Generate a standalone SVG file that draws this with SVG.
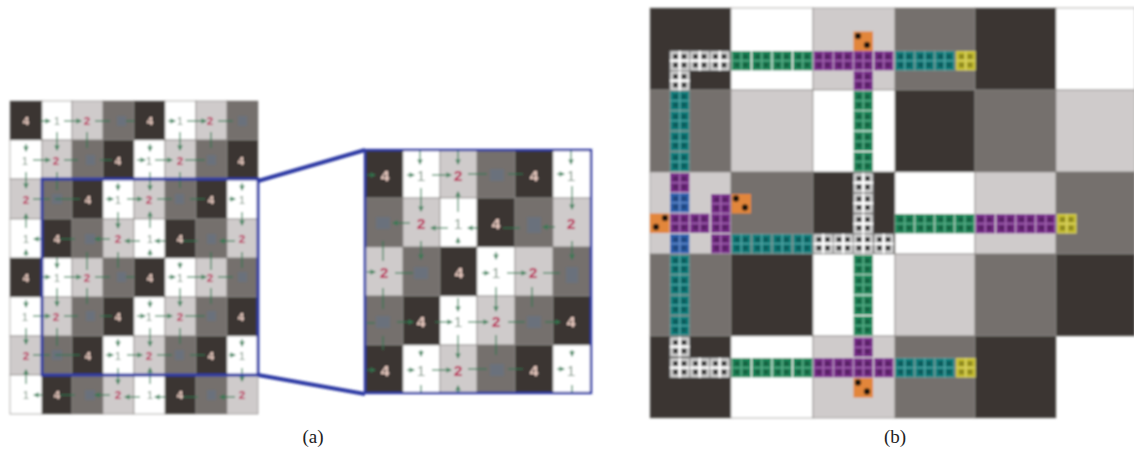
<svg xmlns="http://www.w3.org/2000/svg" xmlns:xlink="http://www.w3.org/1999/xlink" width="1134" height="457" viewBox="0 0 1134 457">
<style>
.d{fill:#3a3633}.w{fill:#fff}.c{fill:#cfcbcb}.g{fill:#74706d}
.cell rect{stroke:#8b8885;stroke-width:.7}
.s{fill:#5f7390;opacity:.4}
text{font-family:"Liberation Sans",Arial,sans-serif;text-anchor:middle}
.a text{font-size:11.5px;font-weight:bold}.z text{font-size:15.5px;font-weight:bold}
.l4{fill:#efcfc5}.l1{fill:#7d9583;font-weight:normal!important}.l2{fill:#b92455}
.cap{font-family:"Liberation Serif","Times New Roman",serif;font-size:19px;fill:#222}
.ar path{fill:none;stroke:#2f7a50;stroke-width:1.3;opacity:.85}
.ar .h{marker-end:url(#ah)}
.t-g{color:#1f8a5c}.t-p{color:#7a2f8c}.t-t{color:#12807f}.t-w{color:#dcdcdc}.t-b{color:#2f62b0}.t-y{color:#c8c030}.t-o{color:#e08a3c}
</style>
<defs>
<filter id="soft" filterUnits="userSpaceOnUse" x="0" y="0" width="1134" height="457"><feGaussianBlur stdDeviation="0.85"/></filter>
<marker id="ah" viewBox="0 0 6 6" refX="5" refY="3" markerWidth="5.5" markerHeight="5.5" markerUnits="userSpaceOnUse" orient="auto"><path d="M0 0L6 3L0 6Z" fill="#2f7a50" stroke="none"/></marker>
<g id="t"><rect width="19.5" height="19.5" fill="currentColor"/><path d="M9.75 0V19.5M0 9.75H19.5" stroke="#fff" stroke-opacity=".3" stroke-width="1.2" fill="none"/><path d="M3 3h5v5h-5zM11.5 3h5v5h-5zM3 11.5h5v5h-5zM11.5 11.5h5v5h-5z" fill="#000" fill-opacity=".28"/><rect width="19.5" height="19.5" fill="none" stroke="#fff" stroke-opacity=".25" stroke-width=".8"/></g>
<g id="tw"><rect width="19.5" height="19.5" fill="#d2d2d2" stroke="#8a8a8a" stroke-width="1"/><path d="M9.75 0V19.5M0 9.75H19.5" stroke="#fff" stroke-width="2.2" fill="none"/><path d="M3 3h5v5h-5zM11.5 3h5v5h-5zM3 11.5h5v5h-5zM11.5 11.5h5v5h-5z" fill="#3a3a3a"/></g>
<g id="to"><rect width="19.5" height="19.5" fill="#e2863a"/><circle cx="4.5" cy="4.5" r="3.2" fill="#1d1208"/><circle cx="13.5" cy="13.5" r="3.2" fill="#1d1208"/></g>
<g id="arrows-top" class="ar">
<path class="h" d="M41 121H50"/><path class="h" d="M64 121H81"/><path d="M95 121H110"/><path d="M126 121H134"/><path class="h" d="M168 121H175"/><path class="h" d="M187 121H206"/><path d="M218 121H233"/>
<path class="h" d="M33 160H50"/><path d="M64 160H78"/><path d="M100 160H112"/><path class="h" d="M137 160H145"/><path class="h" d="M155 160H172"/><path d="M185 160H205"/>
<path d="M33 199H50"/><path d="M55 199H80"/><path class="h" d="M106 199H113"/><path class="h" d="M127 199H142"/><path d="M157 199H172"/><path d="M190 199H205"/><path class="h" d="M229 199H235"/>
<path class="h" d="M42 239H34"/><path d="M60 239H75"/><path class="h" d="M110 239H95"/><path class="h" d="M140 241H125"/><path class="h" d="M165 241H155"/><path d="M180 241H198"/><path class="h" d="M235 241H220"/>
<path class="h" d="M26 144V151"/><path class="h" d="M57 132V150"/><path d="M87 132V148"/><path class="h" d="M150 144V151"/><path class="h" d="M180 132V150"/><path d="M211 132V148"/>
<path class="h" d="M26 172V188"/><path d="M57 172V190"/><path class="h" d="M118 183V190"/><path class="h" d="M150 172V190"/><path d="M180 172V188"/><path class="h" d="M242 183V190"/>
<path class="h" d="M26 228V214"/><path class="h" d="M118 212V228"/><path class="h" d="M150 228V212"/><path class="h" d="M242 212V225"/>
</g>
<g id="arrows-row1z" class="ar">
<path class="h" d="M367 175H375"/><path class="h" d="M407 175H414"/><path class="h" d="M432 175H451"/><path d="M468 174H487"/><path d="M508 174H523"/><path class="h" d="M557 174H564"/>
</g>
</defs>
<g filter="url(#soft)">
<g id="grid-a" class="cell">
<rect class="d" x="10" y="101" width="32" height="39"/><rect class="w" x="42" y="101" width="30" height="39"/><rect class="c" x="72" y="101" width="31" height="39"/><rect class="g" x="103" y="101" width="31" height="39"/><rect class="d" x="134" y="101" width="31" height="39"/><rect class="w" x="165" y="101" width="31" height="39"/><rect class="c" x="196" y="101" width="31" height="39"/><rect class="g" x="227" y="101" width="31" height="39"/>
<rect class="w" x="10" y="140" width="32" height="39"/><rect class="c" x="42" y="140" width="30" height="39"/><rect class="g" x="72" y="140" width="31" height="39"/><rect class="d" x="103" y="140" width="31" height="39"/><rect class="w" x="134" y="140" width="31" height="39"/><rect class="c" x="165" y="140" width="31" height="39"/><rect class="g" x="196" y="140" width="31" height="39"/><rect class="d" x="227" y="140" width="31" height="39"/>
<rect class="c" x="10" y="179" width="32" height="40"/><rect class="g" x="42" y="179" width="30" height="40"/><rect class="d" x="72" y="179" width="31" height="40"/><rect class="w" x="103" y="179" width="31" height="40"/><rect class="c" x="134" y="179" width="31" height="40"/><rect class="g" x="165" y="179" width="31" height="40"/><rect class="d" x="196" y="179" width="31" height="40"/><rect class="w" x="227" y="179" width="31" height="40"/>
<rect class="w" x="10" y="219" width="32" height="39"/><rect class="d" x="42" y="219" width="30" height="39"/><rect class="g" x="72" y="219" width="31" height="39"/><rect class="c" x="103" y="219" width="31" height="39"/><rect class="w" x="134" y="219" width="31" height="39"/><rect class="d" x="165" y="219" width="31" height="39"/><rect class="g" x="196" y="219" width="31" height="39"/><rect class="c" x="227" y="219" width="31" height="39"/>
<rect class="d" x="10" y="258" width="32" height="39"/><rect class="w" x="42" y="258" width="30" height="39"/><rect class="c" x="72" y="258" width="31" height="39"/><rect class="g" x="103" y="258" width="31" height="39"/><rect class="d" x="134" y="258" width="31" height="39"/><rect class="w" x="165" y="258" width="31" height="39"/><rect class="c" x="196" y="258" width="31" height="39"/><rect class="g" x="227" y="258" width="31" height="39"/>
<rect class="w" x="10" y="297" width="32" height="39"/><rect class="c" x="42" y="297" width="30" height="39"/><rect class="g" x="72" y="297" width="31" height="39"/><rect class="d" x="103" y="297" width="31" height="39"/><rect class="w" x="134" y="297" width="31" height="39"/><rect class="c" x="165" y="297" width="31" height="39"/><rect class="g" x="196" y="297" width="31" height="39"/><rect class="d" x="227" y="297" width="31" height="39"/>
<rect class="c" x="10" y="336" width="32" height="39"/><rect class="g" x="42" y="336" width="30" height="39"/><rect class="d" x="72" y="336" width="31" height="39"/><rect class="w" x="103" y="336" width="31" height="39"/><rect class="c" x="134" y="336" width="31" height="39"/><rect class="g" x="165" y="336" width="31" height="39"/><rect class="d" x="196" y="336" width="31" height="39"/><rect class="w" x="227" y="336" width="31" height="39"/>
<rect class="w" x="10" y="375" width="32" height="39"/><rect class="d" x="42" y="375" width="30" height="39"/><rect class="g" x="72" y="375" width="31" height="39"/><rect class="c" x="103" y="375" width="31" height="39"/><rect class="w" x="134" y="375" width="31" height="39"/><rect class="d" x="165" y="375" width="31" height="39"/><rect class="g" x="196" y="375" width="31" height="39"/><rect class="c" x="227" y="375" width="31" height="39"/>
</g>
<g id="smudges-a" class="s">
<rect x="117" y="116" width="9" height="10"/><rect x="238" y="116" width="9" height="10"/><rect x="86" y="155" width="9" height="10"/><rect x="207" y="155" width="9" height="10"/><rect x="52" y="194" width="10" height="10"/><rect x="175" y="194" width="9" height="10"/><rect x="85" y="234" width="10" height="10"/><rect x="207" y="234" width="9" height="10"/>
<rect x="117" y="272" width="9" height="10"/><rect x="238" y="272" width="9" height="10"/><rect x="86" y="311" width="9" height="10"/><rect x="207" y="311" width="9" height="10"/><rect x="52" y="350" width="10" height="10"/><rect x="175" y="350" width="9" height="10"/><rect x="85" y="390" width="10" height="10"/><rect x="207" y="390" width="9" height="10"/>
</g>
<g id="connectors" class="ar">
<use xlink:href="#arrows-top" href="#arrows-top"/>
<use xlink:href="#arrows-top" href="#arrows-top" y="156"/>
<path class="h" d="M26 256V250"/><path class="h" d="M57 258V268"/><path d="M87 252V270"/><path d="M118 252V268"/><path class="h" d="M150 256V250"/><path class="h" d="M180 262V268"/><path d="M211 252V270"/><path d="M242 252V268"/>
</g>
<g id="labels-a" class="a">
<text class="l4" x="26" y="125">4</text><text class="l1" x="57" y="125">1</text><text class="l2" x="87" y="125">2</text><text class="l4" x="150" y="125">4</text><text class="l1" x="180" y="125">1</text><text class="l2" x="210" y="125">2</text>
<text class="l1" x="25" y="165">1</text><text class="l2" x="56" y="165">2</text><text class="l4" x="118" y="165">4</text><text class="l1" x="149" y="165">1</text><text class="l2" x="180" y="165">2</text><text class="l4" x="241" y="165">4</text>
<text class="l2" x="26" y="204">2</text><text class="l4" x="88" y="204">4</text><text class="l1" x="118" y="204">1</text><text class="l2" x="149" y="204">2</text><text class="l4" x="211" y="204">4</text><text class="l1" x="242" y="204">1</text>
<text class="l1" x="26" y="243">1</text><text class="l4" x="57" y="243">4</text><text class="l2" x="118" y="243">2</text><text class="l1" x="150" y="243">1</text><text class="l4" x="180" y="243">4</text><text class="l2" x="242" y="243">2</text>
<text class="l4" x="26" y="282">4</text><text class="l1" x="57" y="282">1</text><text class="l2" x="87" y="282">2</text><text class="l4" x="150" y="282">4</text><text class="l1" x="180" y="282">1</text><text class="l2" x="210" y="282">2</text>
<text class="l1" x="25" y="321">1</text><text class="l2" x="56" y="321">2</text><text class="l4" x="118" y="321">4</text><text class="l1" x="149" y="321">1</text><text class="l2" x="180" y="321">2</text><text class="l4" x="241" y="321">4</text>
<text class="l2" x="26" y="360">2</text><text class="l4" x="88" y="360">4</text><text class="l1" x="118" y="360">1</text><text class="l2" x="149" y="360">2</text><text class="l4" x="211" y="360">4</text><text class="l1" x="242" y="360">1</text>
<text class="l1" x="26" y="399">1</text><text class="l4" x="57" y="399">4</text><text class="l2" x="118" y="399">2</text><text class="l1" x="150" y="399">1</text><text class="l4" x="180" y="399">4</text><text class="l2" x="242" y="399">2</text>
</g>
<g id="grid-zoom" class="cell">
<rect class="d" x="365" y="150" width="38" height="48"/><rect class="w" x="403" y="150" width="37" height="48"/><rect class="c" x="440" y="150" width="37" height="48"/><rect class="g" x="477" y="150" width="38" height="48"/><rect class="d" x="515" y="150" width="38" height="48"/><rect class="w" x="553" y="150" width="38" height="48"/>
<rect class="g" x="365" y="198" width="38" height="49"/><rect class="c" x="403" y="198" width="37" height="49"/><rect class="w" x="440" y="198" width="37" height="49"/><rect class="d" x="477" y="198" width="38" height="49"/><rect class="g" x="515" y="198" width="38" height="49"/><rect class="c" x="553" y="198" width="38" height="49"/>
<rect class="c" x="365" y="247" width="38" height="49"/><rect class="g" x="403" y="247" width="37" height="49"/><rect class="d" x="440" y="247" width="37" height="49"/><rect class="w" x="477" y="247" width="38" height="49"/><rect class="c" x="515" y="247" width="38" height="49"/><rect class="g" x="553" y="247" width="38" height="49"/>
<rect class="g" x="365" y="296" width="38" height="49"/><rect class="d" x="403" y="296" width="37" height="49"/><rect class="w" x="440" y="296" width="37" height="49"/><rect class="c" x="477" y="296" width="38" height="49"/><rect class="g" x="515" y="296" width="38" height="49"/><rect class="d" x="553" y="296" width="38" height="49"/>
<rect class="d" x="365" y="345" width="38" height="48"/><rect class="w" x="403" y="345" width="37" height="48"/><rect class="c" x="440" y="345" width="37" height="48"/><rect class="g" x="477" y="345" width="38" height="48"/><rect class="d" x="515" y="345" width="38" height="48"/><rect class="w" x="553" y="345" width="38" height="48"/>
</g>
<g id="smudges-z" class="s">
<rect x="490" y="169" width="14" height="12"/><rect x="376" y="217" width="14" height="12"/><rect x="527" y="217" width="14" height="16"/><rect x="414" y="267" width="14" height="12"/><rect x="566" y="267" width="12" height="16"/><rect x="376" y="316" width="14" height="12"/><rect x="527" y="316" width="14" height="12"/><rect x="490" y="364" width="14" height="12"/>
</g>
<g id="connectors-zoom" class="ar">
<use xlink:href="#arrows-row1z" href="#arrows-row1z"/>
<use xlink:href="#arrows-row1z" href="#arrows-row1z" y="195"/>
<path class="h" d="M410 223H393"/><path class="h" d="M448 228H431"/><path class="h" d="M478 228H468"/><path d="M503 228H520"/><path class="h" d="M555 227H543"/>
<path class="h" d="M367 272H375"/><path d="M395 273H413"/><path class="h" d="M482 273H489"/><path class="h" d="M507 273H526"/><path d="M543 273H560"/>
<path d="M367 323H375"/><path class="h" d="M397 322H413"/><path class="h" d="M435 322H452"/><path class="h" d="M468 322H488"/><path d="M508 322H525"/><path class="h" d="M545 322H560"/>
<path class="h" d="M420 151V164"/><path class="h" d="M458 151V164"/><path class="h" d="M571 151V164"/><path class="h" d="M421 188V211"/><path class="h" d="M458 212V192"/><path class="h" d="M572 186V209"/>
<path d="M383 241V261"/><path class="h" d="M421 241V259"/><path class="h" d="M458 244V238"/><path class="h" d="M496 252V259"/><path class="h" d="M572 241V259"/>
<path d="M383 288V309"/><path class="h" d="M458 298V311"/><path class="h" d="M496 287V311"/><path d="M532 287V307"/>
<path d="M383 336V350"/><path class="h" d="M458 335V358"/><path d="M496 335V355"/><path class="h" d="M421 350V356"/><path class="h" d="M572 350V356"/>
<path d="M421 385V392"/><path class="h" d="M458 392V386"/><path d="M572 385V392"/>
</g>
<g id="labels-zoom" class="z">
<text class="l4" x="385" y="181">4</text><text class="l1" x="421" y="181">1</text><text class="l2" x="458" y="181">2</text><text class="l4" x="534" y="181">4</text><text class="l1" x="571" y="181">1</text>
<text class="l2" x="421" y="229">2</text><text class="l1" x="458" y="229">1</text><text class="l4" x="496" y="229">4</text><text class="l2" x="571" y="229">2</text>
<text class="l2" x="384" y="278">2</text><text class="l4" x="459" y="278">4</text><text class="l1" x="496" y="278">1</text><text class="l2" x="533" y="278">2</text>
<text class="l4" x="421" y="327">4</text><text class="l1" x="458" y="327">1</text><text class="l2" x="496" y="327">2</text><text class="l4" x="571" y="327">4</text>
<text class="l4" x="385" y="376">4</text><text class="l1" x="421" y="376">1</text><text class="l2" x="458" y="376">2</text><text class="l4" x="534" y="376">4</text><text class="l1" x="571" y="376">1</text>
</g>
<g id="frames" fill="none" stroke="#2f3aa4">
<path d="M42 179H258V375H42Z" stroke-width="2.8"/>
<path d="M258 181L365 150M258 375L365 394" stroke-width="4"/>
<rect x="365" y="150" width="226" height="243" stroke-width="2.4"/>
</g>
<g id="grid-b" class="cell">
<rect class="d" x="650" y="8" width="81" height="82"/><rect class="w" x="731" y="8" width="82" height="82"/><rect class="c" x="813" y="8" width="82" height="82"/><rect class="g" x="895" y="8" width="80" height="82"/><rect class="d" x="975" y="8" width="81" height="82"/><rect class="w" x="1056" y="8" width="79" height="82"/>
<rect class="g" x="650" y="90" width="81" height="82"/><rect class="c" x="731" y="90" width="82" height="82"/><rect class="w" x="813" y="90" width="82" height="82"/><rect class="d" x="895" y="90" width="80" height="82"/><rect class="g" x="975" y="90" width="81" height="82"/><rect class="c" x="1056" y="90" width="79" height="82"/>
<rect class="c" x="650" y="172" width="81" height="82"/><rect class="g" x="731" y="172" width="82" height="82"/><rect class="d" x="813" y="172" width="82" height="82"/><rect class="w" x="895" y="172" width="80" height="82"/><rect class="c" x="975" y="172" width="81" height="82"/><rect class="g" x="1056" y="172" width="79" height="82"/>
<rect class="g" x="650" y="254" width="81" height="82"/><rect class="d" x="731" y="254" width="82" height="82"/><rect class="w" x="813" y="254" width="82" height="82"/><rect class="c" x="895" y="254" width="80" height="82"/><rect class="g" x="975" y="254" width="81" height="82"/><rect class="d" x="1056" y="254" width="79" height="82"/>
<rect class="d" x="650" y="336" width="81" height="82"/><rect class="w" x="731" y="336" width="82" height="82"/><rect class="c" x="813" y="336" width="82" height="82"/><rect class="g" x="895" y="336" width="80" height="82"/><rect class="d" x="975" y="336" width="81" height="82"/>
</g>
<g id="tiles-top">
<use href="#tw" x="670" y="51"/><use href="#tw" x="690" y="51"/><use href="#tw" x="710" y="51"/><use href="#tw" x="670" y="71"/>
<g class="t-g"><use href="#t" x="731.5" y="51"/><use href="#t" x="752" y="51"/><use href="#t" x="772.5" y="51"/><use href="#t" x="793" y="51"/></g>
<g class="t-p"><use href="#t" x="813.5" y="51"/><use href="#t" x="833.5" y="51"/><use href="#t" x="853.5" y="51"/><use href="#t" x="874" y="51"/><use href="#t" x="853.5" y="71"/></g>
<use href="#to" x="853.5" y="31.5"/>
<g class="t-t"><use href="#t" x="895" y="51"/><use href="#t" x="915" y="51"/><use href="#t" x="935" y="51"/></g>
<g class="t-y"><use href="#t" x="956" y="51"/></g>
<g class="t-g"><use href="#t" x="853.5" y="91"/><use href="#t" x="853.5" y="111"/><use href="#t" x="853.5" y="131.5"/><use href="#t" x="853.5" y="152"/></g>
<g class="t-t"><use href="#t" x="670" y="91"/><use href="#t" x="670" y="111"/><use href="#t" x="670" y="131.5"/><use href="#t" x="670" y="152"/></g>
</g>
<g id="tiles-middle">
<g class="t-p"><use href="#t" x="670" y="173"/><use href="#t" x="670" y="213.5"/><use href="#t" x="690" y="213.5"/><use href="#t" x="711" y="194"/><use href="#t" x="711" y="213.5"/><use href="#t" x="711" y="234"/></g>
<g class="t-b"><use href="#t" x="670" y="193"/><use href="#t" x="670" y="234"/></g>
<use href="#to" x="650" y="213.5" transform="rotate(90 659.75 223.25)"/>
<use href="#to" x="731.5" y="194"/>
<g class="t-t"><use href="#t" x="731.5" y="234"/><use href="#t" x="752" y="234"/><use href="#t" x="772.5" y="234"/><use href="#t" x="793" y="234"/></g>
<use href="#tw" x="813.5" y="234"/><use href="#tw" x="833.5" y="234"/><use href="#tw" x="853.5" y="234"/><use href="#tw" x="874" y="234"/>
<use href="#tw" x="853.5" y="173"/><use href="#tw" x="853.5" y="193.5"/><use href="#tw" x="853.5" y="214"/>
<g class="t-g"><use href="#t" x="895" y="214"/><use href="#t" x="915" y="214"/><use href="#t" x="935" y="214"/><use href="#t" x="955" y="214"/></g>
<g class="t-p"><use href="#t" x="975.5" y="214"/><use href="#t" x="996" y="214"/><use href="#t" x="1016" y="214"/><use href="#t" x="1036" y="214"/></g>
<g class="t-y"><use href="#t" x="1057" y="214"/></g>
</g>
<g id="tiles-bottom">
<g class="t-t"><use href="#t" x="670" y="255"/><use href="#t" x="670" y="275"/><use href="#t" x="670" y="295.5"/><use href="#t" x="670" y="316"/></g>
<g class="t-g"><use href="#t" x="853.5" y="255"/><use href="#t" x="853.5" y="275"/><use href="#t" x="853.5" y="295.5"/><use href="#t" x="853.5" y="316"/></g>
<use href="#tw" x="670" y="337"/><use href="#tw" x="670" y="358"/><use href="#tw" x="690" y="358"/><use href="#tw" x="710" y="358"/>
<g class="t-g"><use href="#t" x="731.5" y="358"/><use href="#t" x="752" y="358"/><use href="#t" x="772.5" y="358"/><use href="#t" x="793" y="358"/></g>
<g class="t-p"><use href="#t" x="813.5" y="358"/><use href="#t" x="833.5" y="358"/><use href="#t" x="853.5" y="358"/><use href="#t" x="874" y="358"/><use href="#t" x="853.5" y="337.5"/></g>
<use href="#to" x="853.5" y="378"/>
<g class="t-t"><use href="#t" x="895" y="358"/><use href="#t" x="915" y="358"/><use href="#t" x="935" y="358"/></g>
<g class="t-y"><use href="#t" x="956" y="358"/></g>
</g>
</g>
<text class="cap" x="313" y="443">(a)</text>
<text class="cap" x="895" y="443">(b)</text>
</svg>
